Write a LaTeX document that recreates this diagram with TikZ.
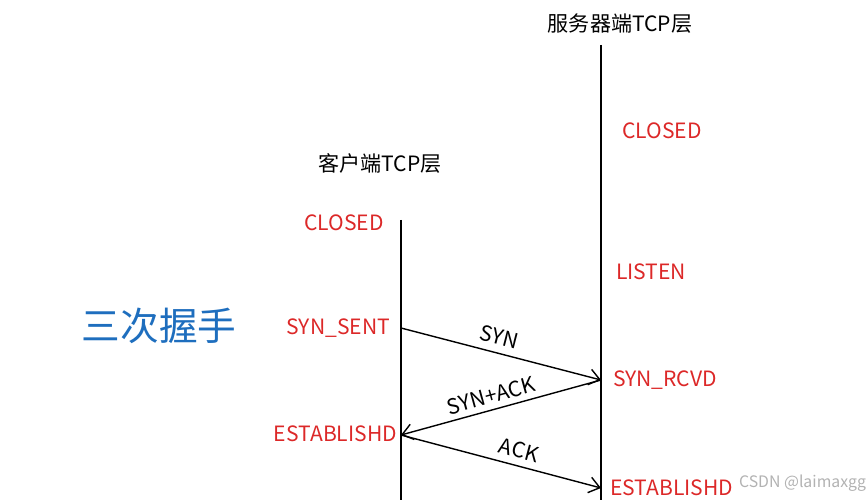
\documentclass[tikz,border=0pt]{standalone}
\usepackage{fontspec}
\setmainfont{Noto Sans CJK SC}
\usetikzlibrary{arrows.meta}
\definecolor{titleblue}{RGB}{30,110,190}
\definecolor{statered}{RGB}{220,40,40}

\begin{document}
\begin{tikzpicture}[x=0.02cm, y=-0.02cm,
        state/.style={text=statered, font=\fontsize{12}{14}\selectfont},
        side/.style={font=\fontsize{12}{14}\selectfont},
        msg/.style={thick, -{Straight Barb[length=6pt,width=9pt]}},
        every node/.style={inner sep=1pt}]
        \useasboundingbox (0,0) rectangle (867,500);
        % the two sides
        \node [side] (client) at (380,163) {客户端TCP层};
        \node [side] (server) at (620,24) {服务器端TCP层};
        \coordinate (ctop) at (401,220);
        \coordinate (cbot) at (401,500);
        \coordinate (stop) at (601,45);
        \coordinate (sbot) at (601,500);
        \draw [thick] (ctop) -- (cbot);
        \draw [thick] (stop) -- (sbot);

        % states
        \node [state, anchor=east] (cclosed) at (386,223) {CLOSED};
        \node [state, anchor=east] (csent) at (392,328) {SYN\_SENT};
        \node [state, anchor=east] (cest) at (399,434) {ESTABLISHD};
        \node [state, anchor=west] (sclosed) at (620,131) {CLOSED};
        \node [state, anchor=west] (slisten) at (614,272) {LISTEN};
        \node [state, anchor=west] (srcvd) at (611,380) {SYN\_RCVD};
        \node [state, anchor=west] (sest) at (608,488) {ESTABLISHD};

        \coordinate (c1) at (401,328);
        \coordinate (s1) at (601,380);
        \coordinate (c2) at (401,435);
        \coordinate (s2) at (601,488);

        % messages
        \draw [msg] (c1) -- node [sloped, above, side, inner sep=4pt, pos=0.47] {SYN} (s1);
        \draw [msg] (s1) -- node [sloped, above, side, inner sep=3pt, pos=0.53] {SYN+ACK} (c2);
        \draw [msg] (c2) -- node [sloped, above, side, inner sep=4pt, pos=0.57] {ACK} (s2);

        \node [text=titleblue, font=\fontsize{22}{26}\selectfont] (title) at (159,326) {三次握手};
        \node [text=gray!60, font=\fontsize{9}{11}\selectfont, anchor=west] (mark) at (737,483) {CSDN @laimaxgg};
\end{tikzpicture}
\end{document}
